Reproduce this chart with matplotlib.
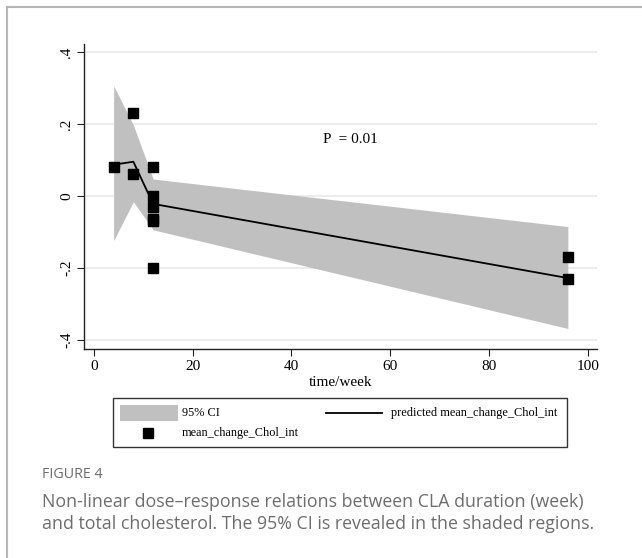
import matplotlib
matplotlib.use("Agg")
import matplotlib.pyplot as plt
from matplotlib.lines import Line2D
from matplotlib.patches import Rectangle

# observed study points
obs_week = [4, 8, 8, 12, 12, 12, 12, 12, 12, 96, 96]
obs_change = [0.08, 0.23, 0.06, 0.08, 0.0, -0.03, -0.063, -0.07, -0.20, -0.17, -0.23]

# predicted curve and 95% CI
pred_week = [4, 8, 12, 96]
pred_mean = [0.087, 0.095, -0.022, -0.228]
ci_upper = [0.306, 0.197, 0.047, -0.085]
ci_lower = [-0.124, -0.016, -0.094, -0.368]

y_ticks = [0.4, 0.2, 0, -0.2, -0.4]
y_tick_labels = [".4", ".2", "0", "-.2", "-.4"]
x_ticks = [0, 20, 40, 60, 80, 100]

plt.rcParams["font.family"] = ["Liberation Serif", "DejaVu Serif"]
W, H = 642, 558
CI_COLOR = "#c0c0c0"
CAP_COLOR = "#6d6d6d"


def fx(px):
    return px / W


def fy(py):
    return 1 - py / H


fig = plt.figure(figsize=(W / 100, H / 100), dpi=100)
ax = fig.add_axes([fx(84), fy(349), (597 - 84) / W, (349 - 44) / H])

ax.fill_between(pred_week, ci_lower, ci_upper, color=CI_COLOR, lw=0, zorder=1)
ax.plot(pred_week, pred_mean, color="black", lw=1.3, zorder=3)
ax.scatter(obs_week, obs_change, marker="s", s=55, color="black", zorder=4)

ax.set_xlim(-2.0, 101.9)
ax.set_ylim(-0.425, 0.422)
ax.set_yticks(y_ticks)
ax.set_yticklabels(y_tick_labels, rotation=90, va="center", fontsize=11)
ax.set_xticks(x_ticks)
ax.set_xticklabels([str(t) for t in x_ticks], fontsize=11)
ax.tick_params(length=5, width=0.8, color="#222222", pad=3)
for t in y_ticks:
    ax.axhline(t, color="#ebebeb", lw=1.3, zorder=0)
for side in ["top", "right"]:
    ax.spines[side].set_visible(False)
for side in ["left", "bottom"]:
    ax.spines[side].set_linewidth(1.0)
    ax.spines[side].set_color("#222222")

ax.set_xlabel("time/week", fontsize=11, labelpad=2)
ax.text(46.4, 0.158, "P  = 0.01", fontsize=11, va="center")

# legend box (drawn by hand to match the Stata layout)
fig.add_artist(Rectangle((fx(113), fy(447)), (567 - 113) / W, (447 - 398) / H,
                         transform=fig.transFigure, facecolor="white",
                         edgecolor="#333333", lw=1.0))
fig.add_artist(Rectangle((fx(120), fy(421)), (178 - 120) / W, 16 / H,
                         transform=fig.transFigure, facecolor=CI_COLOR, lw=0))
fig.text(fx(182), fy(413), "95% CI", fontsize=8.8, va="center")
fig.add_artist(Line2D([fx(326), fx(382)], [fy(413), fy(413)], color="black", lw=1.3))
fig.text(fx(391), fy(413), "predicted mean_change_Chol_int", fontsize=8.8, va="center")
fig.add_artist(Line2D([fx(148)], [fy(433)], marker="s", markersize=7, color="black", ls="none"))
fig.text(fx(182), fy(433), "mean_change_Chol_int", fontsize=8.8, va="center")

# caption
fig.text(fx(42), fy(474), "FIGURE 4", fontfamily="Open Sans", fontsize=10.3,
         color=CAP_COLOR, va="center")
fig.text(fx(42), fy(502),
         "Non-linear dose\u2013response relations between CLA duration (week)",
         fontfamily="Open Sans", fontsize=12.8, color=CAP_COLOR, va="center")
fig.text(fx(42), fy(524),
         "and total cholesterol. The 95% CI is revealed in the shaded regions.",
         fontfamily="Open Sans", fontsize=12.8, color=CAP_COLOR, va="center")

# card border
fig.add_artist(Line2D([fx(7), fx(7)], [0, fy(7)], color="#b5b5b5", lw=1.5))
fig.add_artist(Line2D([fx(7), 1], [fy(7), fy(7)], color="#b5b5b5", lw=1.5))

fig.savefig("out.png", dpi=100)
plt.close()
